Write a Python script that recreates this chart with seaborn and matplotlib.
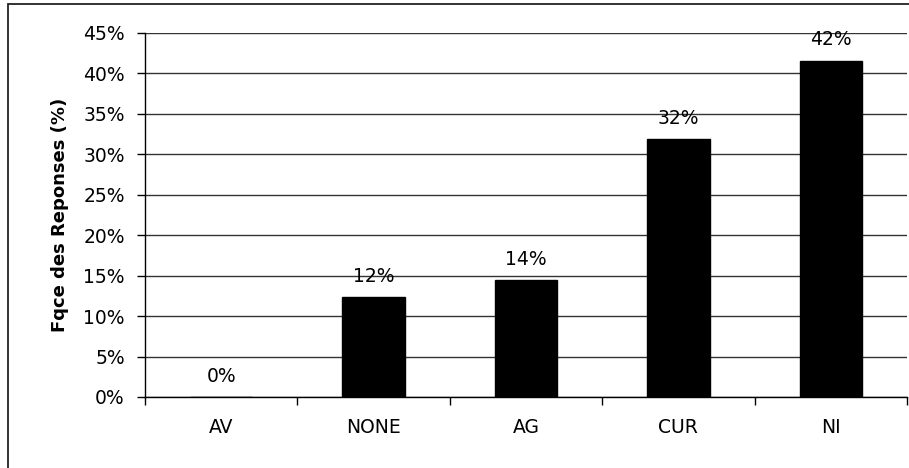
import matplotlib
matplotlib.use("Agg")
import matplotlib.pyplot as plt
import seaborn as sns
import pandas as pd
from matplotlib.patches import Rectangle
from matplotlib.ticker import MultipleLocator, FuncFormatter

categories = ["AV", "NONE", "AG", "CUR", "NI"]
values = [0.0, 12.4, 14.5, 31.9, 41.6]
labels = ["0%", "12%", "14%", "32%", "42%"]
ylabel = "Fqce des Reponses (%)"

sns.set_theme(style="white")
plt.rcParams['font.family'] = ['DejaVu Sans']
plt.rcParams['text.color'] = 'black'
plt.rcParams['axes.labelcolor'] = 'black'
plt.rcParams['xtick.color'] = 'black'
plt.rcParams['ytick.color'] = 'black'

W, H = 909, 468
fig = plt.figure(figsize=(W / 100, H / 100), dpi=100)
ax = fig.add_axes([145 / W, 1 - 397 / H, (907 - 145) / W, (397 - 33) / H])

df = pd.DataFrame({"cat": categories, "val": values})
sns.barplot(data=df, x="cat", y="val", color="black", width=0.41, ax=ax,
            saturation=1, edgecolor="black", zorder=3)

ax.set_ylim(0, 45)
ax.set_xlim(-0.5, len(categories) - 0.5)
ax.yaxis.set_major_locator(MultipleLocator(5))
ax.yaxis.set_major_formatter(FuncFormatter(lambda v, p: f"{int(round(v))}%"))
ax.grid(axis="y", color="#333333", linewidth=1.0, zorder=0)
ax.set_axisbelow(True)

for s in ["top", "right"]:
    ax.spines[s].set_visible(False)
for s in ["left", "bottom"]:
    ax.spines[s].set_visible(True)
    ax.spines[s].set_color("black")
    ax.spines[s].set_linewidth(1.0)

ax.set_xticks(range(len(categories)))
ax.set_xticklabels(categories, fontsize=13.5)
ax.set_xticks([i - 0.5 for i in range(len(categories) + 1)], minor=True)
ax.tick_params(axis="x", which="major", length=0, pad=15)
ax.tick_params(axis="x", which="minor", length=5.5, width=1, color="black", direction="out", bottom=True)
ax.tick_params(axis="y", length=5.5, width=1, color="black", direction="out", left=True,
               labelsize=13.5, pad=9)

ax.set_xlabel("")
ax.set_ylabel(ylabel, fontsize=13, fontweight="bold", labelpad=10)

for i, (v, t) in enumerate(zip(values, labels)):
    ax.annotate(t, xy=(i, v), xytext=(0, 8), textcoords="offset points",
                ha="center", va="bottom", fontsize=13.5, color="black", clip_on=False)

fig.add_artist(Rectangle((8 / W, -0.1), 1.2, (1 - 4 / H) + 0.1, transform=fig.transFigure,
                         fill=False, edgecolor="#222222", linewidth=1.3))

fig.savefig("out.png", dpi=100)
